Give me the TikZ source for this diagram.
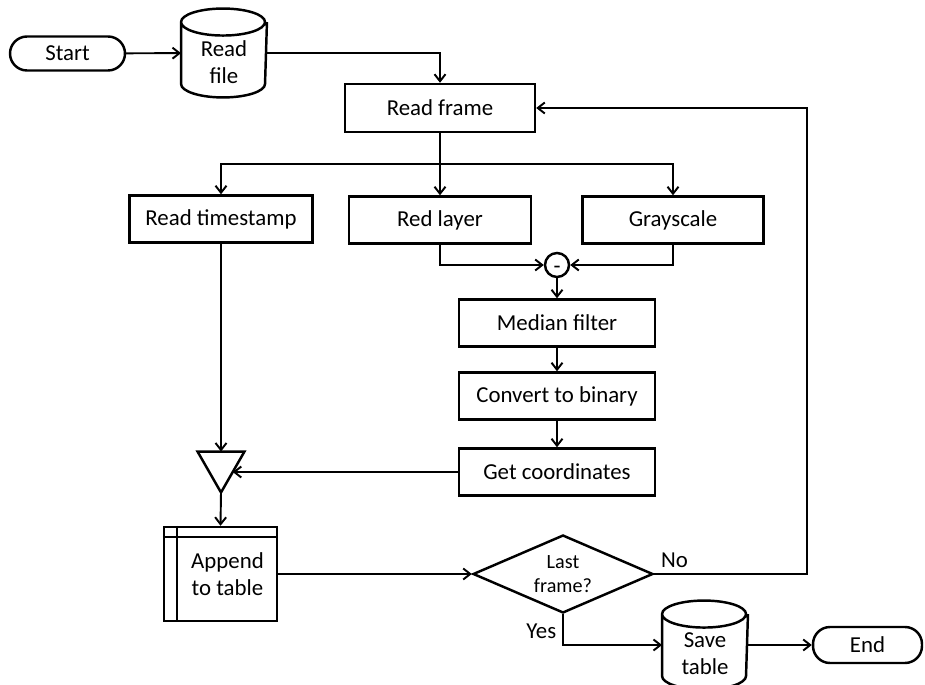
\documentclass[tikz,border=0pt]{standalone}
\usepackage{fontspec}
\setmainfont{Carlito}
\usetikzlibrary{shapes.geometric,calc,arrows.meta}

\begin{document}
\begin{tikzpicture}[x=0.02cm,y=-0.02cm,
    font=\fontsize{13}{15.5}\selectfont,
    line width=1.1pt,
    >={Straight Barb[length=0.14cm,width=0.22cm]},
    process/.style={rectangle,draw,line width=1.4pt,inner sep=0,minimum height=0.94cm},
    terminal/.style={rectangle,draw,line width=1.4pt,rounded corners=0.34cm,inner sep=0,minimum height=0.68cm},
    disk/.style={rectangle,inner sep=0,minimum width=1.68cm,minimum height=1.74cm},
    disktext/.style={label={[yshift=-0.18cm,align=center,inner sep=0]center:#1}},
    decide/.style={diamond,draw,line width=1.4pt,inner sep=0,aspect=2.3,minimum width=3.6cm,minimum height=1.56cm,
        align=center,font=\fontsize{11.5}{14}\selectfont}]
    \useasboundingbox (0,0) rectangle (925,685);

    \node[terminal,minimum width=2.3cm] (start) at (67.5,53.5) {Start};
    \node[disk,disktext={Read\\file}] (rfile) at (224,53) {};
    \node[process,minimum width=3.8cm,minimum height=0.96cm] (rframe) at (440,108) {Read frame};
    \node[process,minimum width=3.66cm] (tstamp) at (221,219) {Read timestamp};
    \node[process,minimum width=3.64cm] (rlayer) at (440,220) {Red layer};
    \node[process,minimum width=3.62cm] (gray) at (673,220) {Grayscale};
    \node[circle,draw,line width=1.4pt,inner sep=0,minimum size=0.48cm,
        label={[yshift=-0.09cm,inner sep=0]center:-}] (minus) at (557,265) {};
    \node[process,minimum width=3.92cm] (median) at (557,323) {Median filter};
    \node[process,minimum width=3.92cm] (binary) at (557,396) {Convert to binary};
    \node[process,minimum width=3.92cm] (coords) at (557,472) {Get coordinates};
    \node[inner sep=0,minimum width=0.9cm,minimum height=0.78cm] (merge) at (221,472) {};
    \node[process,minimum width=2.26cm,minimum height=1.88cm,align=center] (atable) at (220.5,574) {\hspace*{0.28cm}Append\\\hspace*{0.28cm}to table};
    \node[decide] (last) at (563,574) {Last\\frame?};
    \node[disk,disktext={Save\\table}] (stable) at (705,645) {};
    \node[terminal,minimum width=2.18cm,minimum height=0.72cm] (finish) at (867.5,645) {End};

    \coordinate (split) at (440,164);
    \coordinate (loop) at (807,108);
    \coordinate (mergein) at ($(merge.north east)!.5!(merge.south)$);

    % shapes drawn by hand
    \foreach \c in {rfile,stable} {
        \draw[line width=1.4pt] ([yshift=-0.27cm]\c.north west)
            arc[start angle=180,end angle=360,x radius=0.84cm,y radius=0.27cm]
            arc[start angle=0,end angle=180,x radius=0.84cm,y radius=0.27cm]
            -- ([yshift=0.27cm]\c.south west)
            arc[start angle=180,end angle=360,x radius=0.84cm,y radius=0.27cm]
            -- ([yshift=-0.27cm]\c.north east);
    }
    \draw[line width=1.4pt,line join=miter] (merge.north west) -- (merge.north east) -- (merge.south) -- cycle;
    \draw[line width=1.4pt] ([xshift=0.28cm]atable.north west) -- ([xshift=0.28cm]atable.south west);
    \draw[line width=1.4pt] ([yshift=-0.22cm]atable.north west) -- ([yshift=-0.22cm]atable.north east);

    \draw[->] (start) -- (rfile);
    \draw[->] (rfile.east) -| (rframe.north);
    \draw[->] (rframe) -- (rlayer);
    \draw[->] (split) -| (tstamp.north);
    \draw[->] (split) -| (gray.north);
    \draw[->] (rlayer.south) |- (minus.west);
    \draw[->] (gray.south) |- (minus.east);
    \draw[->] (minus) -- (median);
    \draw[->] (median) -- (binary);
    \draw[->] (binary) -- (coords);
    \draw[->] (tstamp.south) -- (merge.north);
    \draw[->] (coords.west) -- (mergein);
    \draw[->] (merge.south) -- (atable.north);
    \draw[->] (atable.east) -- (last.west);
    \draw[->] (last.east) -| node[above right,pos=0] {No} (loop) -- (rframe.east);
    \draw[->] (last.south) |- node[left,pos=0.27] {Yes} (stable.west);
    \draw[->] (stable) -- (finish);
\end{tikzpicture}
\end{document}
